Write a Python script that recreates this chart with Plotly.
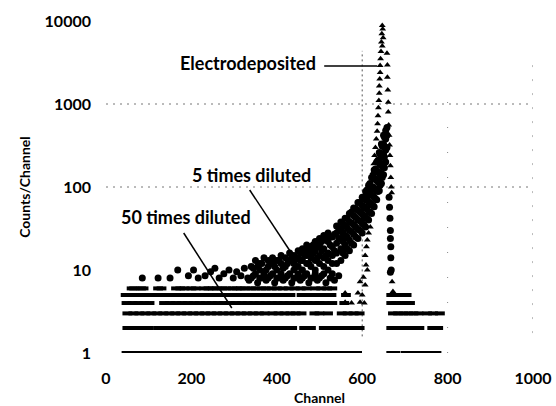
import plotly.graph_objects as go

# ---------------- data (channel, counts/channel) ----------------
x_ticks = [0, 200, 400, 600, 800, 1000]
y_ticks = [1, 10, 100, 1000, 10000]
y_tick_labels = ["1", "10", "100", "1000", "10000"]

# 50 times diluted: flat low-count rows
d50_cnt1_ch = [48, 62, 76, 90, 104, 118, 132, 146, 160, 174, 188, 202, 216, 230, 244, 258, 272, 286, 300,
               314, 328, 342, 356, 370, 384, 398, 412, 426, 440, 454, 468, 482, 500, 512, 526, 540, 552,
               566, 578, 588]
d50_cnt2_ch = [50, 64, 78, 92, 100, 122, 136, 150, 164, 178, 188, 200, 214, 228, 242, 256, 270, 284, 298,
               312, 326, 340, 354, 368, 380, 394, 408, 420, 436, 464, 480, 510, 524, 538, 552, 566, 580, 594]
d50_cnt3_ch = [50, 64, 78, 92, 106, 120, 134, 148, 162, 176, 190, 204, 218, 232, 246, 260, 274, 288, 302,
               316, 330, 344, 358, 372, 390, 404, 418, 432, 444, 458, 488, 500, 520, 552, 566, 580, 594]

# 5 times diluted: low-count rows
d5_cnt4_ch = [48, 62, 76, 90, 102, 136, 150, 164, 178, 192, 206, 220, 234, 248, 262, 276, 290, 304, 318,
              332, 346, 360, 374, 388, 402, 416, 430, 444, 458, 472, 488, 500, 512, 530, 558]
d5_cnt5_ch = [46, 58, 70, 82, 98, 106, 124, 138, 152, 166, 180, 194, 208, 222, 236, 250, 264, 278, 292,
              306, 320, 334, 348, 362, 376, 390, 404, 418, 432, 458, 472, 486, 500, 514, 528, 562]
d5_cnt6_ch = [60, 66, 82, 88, 122, 130, 164, 174, 184, 200, 210, 230, 240, 250, 260, 272, 282, 296, 306,
              316, 326, 340, 350, 364, 374, 388, 400, 414, 428, 442, 456, 470, 490, 504, 518, 530]

# 5 times diluted: scattered points and the rising continuum
d5_ch = [85, 122, 150, 168, 193, 205, 216, 232, 245, 255, 265, 276, 288, 298, 306, 316, 324, 332,
         340, 340, 350, 350, 360, 360, 360, 370, 370, 380, 380, 380, 390, 390, 390, 400, 400, 400,
         410, 410, 410, 420, 420, 420, 430, 430, 430, 440, 440, 440, 440, 450, 450, 450, 450,
         460, 460, 460, 460, 470, 470, 470, 470, 480, 480, 480, 480, 490, 490, 490, 490, 490,
         500, 500, 500, 500, 500, 510, 510, 510, 510, 510, 520, 520, 520, 520, 520, 530, 530, 530, 530, 530,
         540, 540, 540, 540, 540, 550, 550, 550, 550, 550, 560, 560, 560, 560, 560, 570, 570, 570, 570, 570,
         580, 580, 580, 580, 580, 590, 590, 590, 590, 590, 600, 600, 600, 600, 600, 608, 608, 608, 608, 608,
         615, 615, 615, 615, 615, 622, 622, 622, 622, 622, 628, 628, 628, 628, 628, 634, 634, 634, 634, 634,
         640, 640, 640, 640, 640, 645, 645, 645, 645, 645, 650, 650, 650, 650, 650, 655, 655, 655, 655,
         658, 658, 658, 663, 664, 665, 666, 666, 667, 667, 668, 666]
d5_val = [8, 8, 8, 10, 8.5, 10, 8, 8.5, 9.5, 10.5, 8, 9, 10, 8, 9.5, 8.5, 10.5, 8,
          8, 11, 9, 13, 8, 10, 12, 9, 14, 8, 11, 13, 9, 12, 14, 8, 10, 13,
          9, 12, 15, 8, 11, 14, 9, 13, 16, 8, 10, 12, 15, 9, 11, 14, 17,
          8, 10, 13, 18, 9, 12, 15, 20, 8, 11, 14, 19, 9, 10, 13, 17, 22,
          8, 12, 15, 20, 24, 9, 11, 14, 18, 26, 10, 13, 16, 22, 28, 9, 12, 15, 19, 25,
          12, 16, 21, 28, 34, 13, 18, 24, 31, 38, 15, 20, 26, 34, 42, 17, 23, 30, 38, 48,
          20, 27, 35, 45, 56, 24, 31, 40, 52, 65, 28, 36, 47, 60, 75, 33, 42, 55, 70, 88,
          40, 50, 65, 82, 105, 48, 62, 80, 100, 130, 58, 75, 95, 125, 160, 70, 90, 120, 155, 200,
          90, 115, 150, 200, 260, 110, 145, 190, 250, 330, 140, 190, 250, 330, 420, 200, 280, 380, 480,
          300, 420, 520, 75, 57, 42, 30, 24, 19, 14, 10, 9.4]

# 5 times diluted: in-between channels of the continuum (denser band)
d5b_ch = [335, 345, 355, 365, 375, 385, 395, 405, 415, 425, 435, 445, 455, 465, 475, 485, 495, 505, 515,
          525, 535, 545,
          345, 355, 365, 375, 385, 395, 405, 415, 425, 435, 445, 455, 465, 475, 485, 495, 505, 515, 525,
          535, 545,
          445, 455, 465, 475, 485, 495, 505, 515, 525, 535, 545,
          555, 555, 555, 555, 565, 565, 565, 565, 575, 575, 575, 575, 585, 585, 585, 585,
          595, 595, 595, 595, 604, 604, 604, 604, 611, 611, 611, 611, 618, 618, 618, 618,
          625, 625, 625, 625, 631, 631, 631, 631, 637, 637, 637, 637, 642, 642, 642, 642,
          647, 647, 647, 647, 652, 652, 652, 652]
d5b_val = [7.5, 8.5, 7, 8, 7.5, 8.5, 7, 8, 7.5, 8.5, 7, 8, 7.5, 8.5, 7, 8, 7.5, 8.5, 7, 8, 7.5, 8.5,
           10.5, 11, 12, 10, 12.5, 11, 13, 10.5, 12, 14, 11, 13, 15, 12, 16, 14, 17, 15, 20, 17, 24,
           13.5, 16, 17, 17, 20, 19, 22, 23, 25, 27, 30,
           16, 22, 28, 36, 18, 25, 32, 42, 21, 29, 37, 50, 25, 33, 43, 55,
           30, 39, 50, 65, 35, 45, 58, 75, 42, 55, 70, 92, 50, 65, 85, 110,
           60, 78, 100, 135, 72, 95, 125, 165, 88, 115, 150, 210, 105, 140, 185, 250,
           130, 175, 230, 310, 170, 230, 300, 400]

# Electrodeposited: peak, side peak and tail
ed_ch = [647, 648, 646, 649, 645, 647,
         644, 643, 642, 642, 641, 640, 640, 639, 638, 637, 636, 635, 633, 631, 629, 627, 625,
         658, 659, 659, 660, 661, 661, 662, 663, 664, 665, 666, 667, 668, 669,
         619, 615, 612, 610, 607, 609, 612, 603, 595, 607, 590, 600, 595, 605, 560, 560, 575,
         670, 672]
ed_val = [8800, 8000, 7000, 6300, 5600, 5000,
          4300, 3500, 2900, 2400, 2000, 1650, 1350, 1100, 900, 720, 580, 470, 380, 300, 240, 190, 150,
          4100, 2950, 2100, 1470, 1050, 800, 560, 420, 320, 240, 180, 130, 100, 85,
          33, 28, 23, 19, 15, 11.5, 10, 8.2, 7.2, 6.6, 5.3, 5, 4.1, 4, 5.3, 4.1, 4,
          7.2, 5.5]
ed_cnt1_ch = [668, 678, 702, 714, 726, 738, 750, 762, 774]
ed_cnt2_ch = [668, 684, 696, 708, 720, 734, 764, 778]
ed_cnt3_ch = [672, 684, 696, 708, 720, 732, 752, 766, 782]
ed_cnt4_ch = [668, 680, 692, 704, 712]
ed_cnt5_ch = [668, 680, 692, 704]

# ---------------- figure ----------------
FONT = "Lato"
fig = go.Figure()


def add_row(channels, count):
    fig.add_trace(go.Scatter(
        x=channels, y=[count] * len(channels), mode="markers", hoverinfo="skip",
        marker=dict(symbol="line-ew", size=7, line=dict(width=4, color="black")),
        showlegend=False))


for ch, c in [(d50_cnt1_ch, 1), (d50_cnt2_ch, 2), (d50_cnt3_ch, 3),
              (d5_cnt4_ch, 4), (d5_cnt5_ch, 5), (d5_cnt6_ch, 6),
              (ed_cnt1_ch, 1), (ed_cnt2_ch, 2), (ed_cnt3_ch, 3), (ed_cnt4_ch, 4), (ed_cnt5_ch, 5)]:
    add_row(ch, c)

fig.add_trace(go.Scatter(x=d5_ch + d5b_ch, y=d5_val + d5b_val, mode="markers", name="5 times diluted",
                         marker=dict(symbol="circle", size=7, color="black"), showlegend=False))
fig.add_trace(go.Scatter(x=ed_ch, y=ed_val, mode="markers", name="Electrodeposited",
                         marker=dict(symbol="triangle-up", size=6, color="black"), showlegend=False))


# dotted grid remnants
def hline(yp, dash, color):
    fig.add_shape(type="line", xref="paper", yref="paper", x0=0, x1=1, y0=yp, y1=yp,
                  line=dict(color=color, width=1, dash=dash), layer="below")


def vline(xv, y0, y1, dash, color):
    fig.add_shape(type="line", xref="x", yref="paper", x0=xv, x1=xv, y0=y0, y1=y1,
                  line=dict(color=color, width=1, dash=dash), layer="below")


hline(0.75, "2px,5px", "#777")
hline(0.50, "2px,5px", "#777")
vline(600, 0.05, 0.91, "2px,3px", "#555")
vline(800, 0.0, 0.76, "1px,24px", "#888")
vline(1000, 0.06, 0.88, "2px,12px", "#777")

# labels with leader lines
ann_font = dict(family=FONT, size=18, color="black", weight="bold")


def px_text(xc, yc, text):
    fig.add_annotation(xref="paper", yref="paper", x=(xc - 105.8) / 427, y=(353 - yc) / 332,
                       xanchor="center", yanchor="middle", text=text, showarrow=False, font=ann_font)


px_text(248, 63, "Electrodeposited")
px_text(251, 175, "5 times diluted")
px_text(186, 217, "50 times diluted")


def px_line(xa, ya, xb, yb):
    fig.add_shape(type="line", xref="paper", yref="paper",
                  x0=(xa - 105.8) / 427, x1=(xb - 105.8) / 427,
                  y0=(353 - ya) / 332, y1=(353 - yb) / 332,
                  line=dict(color="black", width=1.5))


px_line(324, 66, 377, 66)
px_line(249.5, 190, 290.5, 252)
px_line(183.5, 233, 231.6, 308)

fig.update_layout(
    width=556, height=406,
    margin=dict(l=106, r=23, t=21, b=53),
    paper_bgcolor="white", plot_bgcolor="white",
    font=dict(family=FONT, color="black"),
    xaxis=dict(range=[0, 1000], tickvals=x_ticks, showgrid=False, zeroline=False, showline=False,
               ticks="", ticklabelstandoff=14, automargin=False,
               tickfont=dict(family=FONT, size=16, weight="bold"),
               title=dict(text="Channel", font=dict(family=FONT, size=14, weight="bold"), standoff=10)),
    yaxis=dict(type="log", range=[0, 4], tickvals=y_ticks, ticktext=y_tick_labels, showgrid=False,
               zeroline=False, showline=False, ticks="", ticklabelstandoff=14, automargin=False,
               tickfont=dict(family=FONT, size=16, weight="bold"),
               title=dict(text="Counts/Channel", font=dict(family=FONT, size=14, weight="bold"),
                          standoff=10)),
)

fig.write_html("out.html")
